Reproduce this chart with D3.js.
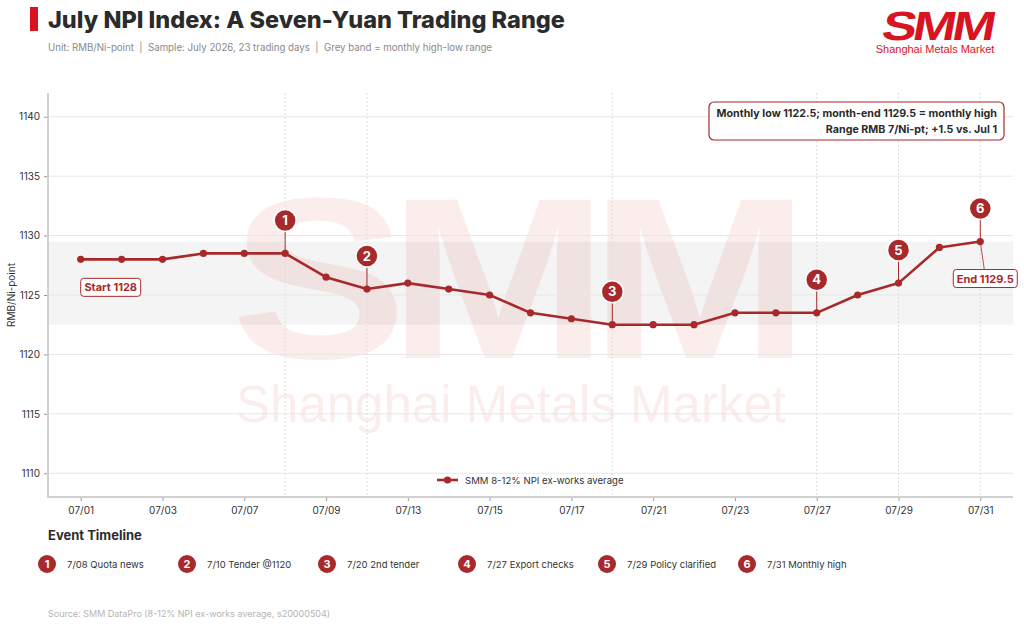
<!DOCTYPE html>
<html lang="en">
<head>
<meta charset="UTF-8">
<title>July NPI Index</title>
<style>
  *{margin:0;padding:0;}
  body{background:#fff;font-family:Inter, "Noto Sans", sans-serif;}
</style>
</head>
<body>
<div id="container"></div>
<script src="https://cdn.jsdelivr.net/npm/d3@7/dist/d3.min.js"></script>
<script>
// data
var dates = ['07/01','07/02','07/03','07/06','07/07','07/08','07/09','07/10','07/13','07/14','07/15','07/16',
             '07/17','07/20','07/21','07/22','07/23','07/24','07/27','07/28','07/29','07/30','07/31']
var npi = [1128,1128,1128,1128.5,1128.5,1128.5,1126.5,1125.5,1126,1125.5,1125,1123.5,
           1123,1122.5,1122.5,1122.5,1123.5,1123.5,1123.5,1125,1126,1129,1129.5]
var tickDates = ['07/01','07/03','07/07','07/09','07/13','07/15','07/17','07/21','07/23','07/27','07/29','07/31']
var yTicks = [1110,1115,1120,1125,1130,1135,1140]
var eventDates = ['07/08','07/10','07/20','07/27','07/29','07/31']
var eventLabels = ['7/08 Quota news','7/10 Tender @1120','7/20 2nd tender','7/27 Export checks','7/29 Policy clarified','7/31 Monthly high']
var bandLow = 1122.5, bandHigh = 1129.5

var W = 1024, H = 627
var red = '#a8292b'
var pl = 48, pr = 1013, pt = 93, pb = 497

var svg = d3.select('#container').append('svg').attr('width', W).attr('height', H)
  .style('font-family', 'Inter, "Noto Sans", sans-serif')

// header
svg.append('rect').attr('x', 30).attr('y', 7).attr('width', 8).attr('height', 24).attr('fill', '#d7141f')
svg.append('text').attr('x', 48).attr('y', 28).text('July NPI Index: A Seven-Yuan Trading Range')
  .attr('font-size', 23.5).attr('font-weight', 800).attr('fill', '#2b2b2b')
svg.append('text').attr('x', 48).attr('y', 51).text('Unit: RMB/Ni-point  |  Sample: July 2026, 23 trading days  |  Grey band = monthly high-low range')
  .attr('font-size', 9.7).attr('fill', '#8a8a8a').style('white-space', 'pre')

// logo
var logo = svg.append('g').attr('transform', 'translate(935,40)')
logo.append('text').text('SMM').attr('text-anchor', 'middle')
  .attr('font-family', '"Liberation Sans", Arial, sans-serif').attr('font-weight', 900)
  .attr('font-size', 40).attr('letter-spacing', -3).attr('fill', '#d7141f')
  .attr('transform', 'scale(1.3,1.02) skewX(-8)')
svg.append('text').attr('x', 935).attr('y', 53).attr('text-anchor', 'middle').text('Shanghai Metals Market')
  .attr('font-family', '"Liberation Sans", Arial, sans-serif').attr('font-size', 11).attr('fill', '#d7141f')

var x = d3.scalePoint().domain(dates).range([pl, pr]).padding(0.8)
var y = d3.scaleLinear().domain([1108, 1142]).range([pb, pt])

// band
svg.append('rect').attr('x', pl).attr('width', pr - pl)
  .attr('y', y(bandHigh)).attr('height', y(bandLow) - y(bandHigh)).attr('fill', '#f4f4f4')

// watermark
var wm = svg.append('g').attr('fill', '#d7141f').attr('fill-opacity', 0.08)
wm.append('text').attr('x', 511).attr('y', 358).attr('text-anchor', 'middle').text('SMM')
  .attr('font-family', '"Liberation Sans", Arial, sans-serif').attr('font-weight', 900)
  .attr('font-size', 200).attr('letter-spacing', -14)
  .attr('transform', 'translate(511,358) scale(1.32,1.15) translate(-511,-358)')
wm.append('text').attr('x', 511).attr('y', 422).attr('text-anchor', 'middle').text('Shanghai Metals Market')
  .attr('font-family', '"Liberation Sans", Arial, sans-serif').attr('font-size', 51)

// grid
svg.append('g').selectAll('line').data(yTicks).enter().append('line')
  .attr('x1', pl).attr('x2', pr).attr('y1', function (d) { return y(d) }).attr('y2', function (d) { return y(d) })
  .attr('stroke', '#e6e6e6').attr('stroke-width', 1)
svg.append('g').selectAll('line').data(eventDates).enter().append('line')
  .attr('x1', function (d) { return x(d) }).attr('x2', function (d) { return x(d) })
  .attr('y1', pt).attr('y2', pb)
  .attr('stroke', '#dcdcdc').attr('stroke-width', 1).attr('stroke-dasharray', '2,2')

// axes
svg.append('g').attr('transform', 'translate(' + pl + ',0)')
  .call(d3.axisLeft(y).tickValues(yTicks).tickFormat(d3.format('d')).tickSize(4).tickPadding(4))
svg.append('g').attr('transform', 'translate(0,' + pb + ')')
  .call(d3.axisBottom(x).tickValues(tickDates).tickSize(4).tickPadding(6))
svg.selectAll('.domain').remove()
svg.append('line').attr('x1', pl).attr('x2', pl).attr('y1', pt).attr('y2', pb + 1).attr('stroke', '#d0d0d0').attr('stroke-width', 2)
svg.append('line').attr('x1', pl).attr('x2', pr).attr('y1', pb).attr('y2', pb).attr('stroke', '#d0d0d0').attr('stroke-width', 2)
svg.selectAll('.tick line').attr('stroke', '#999')
svg.selectAll('.tick text').attr('font-size', 10).attr('fill', '#333').attr('font-family', 'Inter, "Noto Sans", sans-serif')

svg.append('text').attr('transform', 'translate(15,' + y(1125) + ') rotate(-90)').attr('text-anchor', 'middle')
  .text('RMB/Ni-point').attr('font-size', 10).attr('fill', '#333')

// series
var pts = dates.map(function (d, i) { return {d: d, v: npi[i]} })
svg.append('path').datum(pts)
  .attr('d', d3.line().x(function (p) { return x(p.d) }).y(function (p) { return y(p.v) }))
  .attr('fill', 'none').attr('stroke', red).attr('stroke-width', 2.6).attr('stroke-linejoin', 'round')
svg.append('g').selectAll('circle').data(pts).enter().append('circle')
  .attr('cx', function (p) { return x(p.d) }).attr('cy', function (p) { return y(p.v) })
  .attr('r', 3.6).attr('fill', red)

// event markers
var ev = svg.append('g').selectAll('g').data(eventDates).enter().append('g')
  .attr('transform', function (d) { return 'translate(' + x(d) + ',' + y(npi[dates.indexOf(d)]) + ')' })
ev.append('line').attr('y1', 0).attr('y2', -24).attr('stroke', red).attr('stroke-width', 1)
ev.append('circle').attr('cy', -33).attr('r', 11).attr('fill', red).attr('stroke', '#fff').attr('stroke-width', 1.5)
ev.append('text').attr('y', -28.5).attr('text-anchor', 'middle').text(function (d, i) { return i + 1 })
  .attr('font-size', 13).attr('font-weight', 700).attr('fill', '#fff')

// start / end labels
function tag(cx, cy, w, label) {
  svg.append('rect').attr('x', cx - w / 2).attr('y', cy - 9).attr('width', w).attr('height', 18).attr('rx', 3)
    .attr('fill', '#fff').attr('stroke', red).attr('stroke-width', 1)
  svg.append('text').attr('x', cx).attr('y', cy + 4).attr('text-anchor', 'middle').text(label)
    .attr('font-size', 11).attr('font-weight', 700).attr('fill', red)
}
tag(x(dates[0]) + 30, y(npi[0]) + 28, 60, 'Start ' + npi[0])
var ex = x(dates[dates.length - 1]), eyv = y(npi[npi.length - 1])
svg.append('line').attr('x1', ex).attr('y1', eyv).attr('x2', ex + 4).attr('y2', eyv + 28).attr('stroke', red).attr('stroke-width', 0.8)
tag(ex + 5, eyv + 37, 64, 'End ' + npi[npi.length - 1])

// summary box
svg.append('rect').attr('x', 709).attr('y', 102).attr('width', 295).attr('height', 38).attr('rx', 5)
  .attr('fill', '#fff').attr('stroke', red).attr('stroke-width', 1.2)
svg.append('text').attr('x', 997).attr('y', 117).attr('text-anchor', 'end')
  .text('Monthly low ' + bandLow + '; month-end ' + bandHigh + ' = monthly high')
  .attr('font-size', 10.7).attr('font-weight', 700).attr('fill', '#2b2b2b')
svg.append('text').attr('x', 997).attr('y', 133).attr('text-anchor', 'end')
  .text('Range RMB ' + (bandHigh - bandLow) + '/Ni-pt; +' + (npi[npi.length - 1] - npi[0]) + ' vs. Jul 1')
  .attr('font-size', 10.7).attr('font-weight', 700).attr('fill', '#2b2b2b')

// legend
svg.append('line').attr('x1', 437).attr('x2', 458).attr('y1', 480).attr('y2', 480).attr('stroke', red).attr('stroke-width', 2.6)
svg.append('circle').attr('cx', 447.5).attr('cy', 480).attr('r', 3.6).attr('fill', red)
svg.append('text').attr('x', 465).attr('y', 484).text('SMM 8-12% NPI ex-works average').attr('font-size', 9.6).attr('fill', '#333')

// event timeline
svg.append('text').attr('x', 48).attr('y', 540).text('Event Timeline').attr('font-size', 13).attr('font-weight', 700).attr('fill', '#2b2b2b')
var tl = svg.append('g').selectAll('g').data(eventLabels).enter().append('g')
  .attr('transform', function (d, i) { return 'translate(' + (47 + 140 * i) + ',564)' })
tl.append('circle').attr('r', 9).attr('fill', red)
tl.append('text').attr('y', 4).attr('text-anchor', 'middle').text(function (d, i) { return i + 1 })
  .attr('font-size', 11).attr('font-weight', 700).attr('fill', '#fff')
tl.append('text').attr('x', 20).attr('y', 4).text(function (d) { return d }).attr('font-size', 9.5).attr('fill', '#333')

// footer
svg.append('text').attr('x', 48).attr('y', 617).text('Source: SMM DataPro (8-12% NPI ex-works average, s20000504)')
  .attr('font-size', 9).attr('fill', '#b5b5b5')
</script>
</body>
</html>
